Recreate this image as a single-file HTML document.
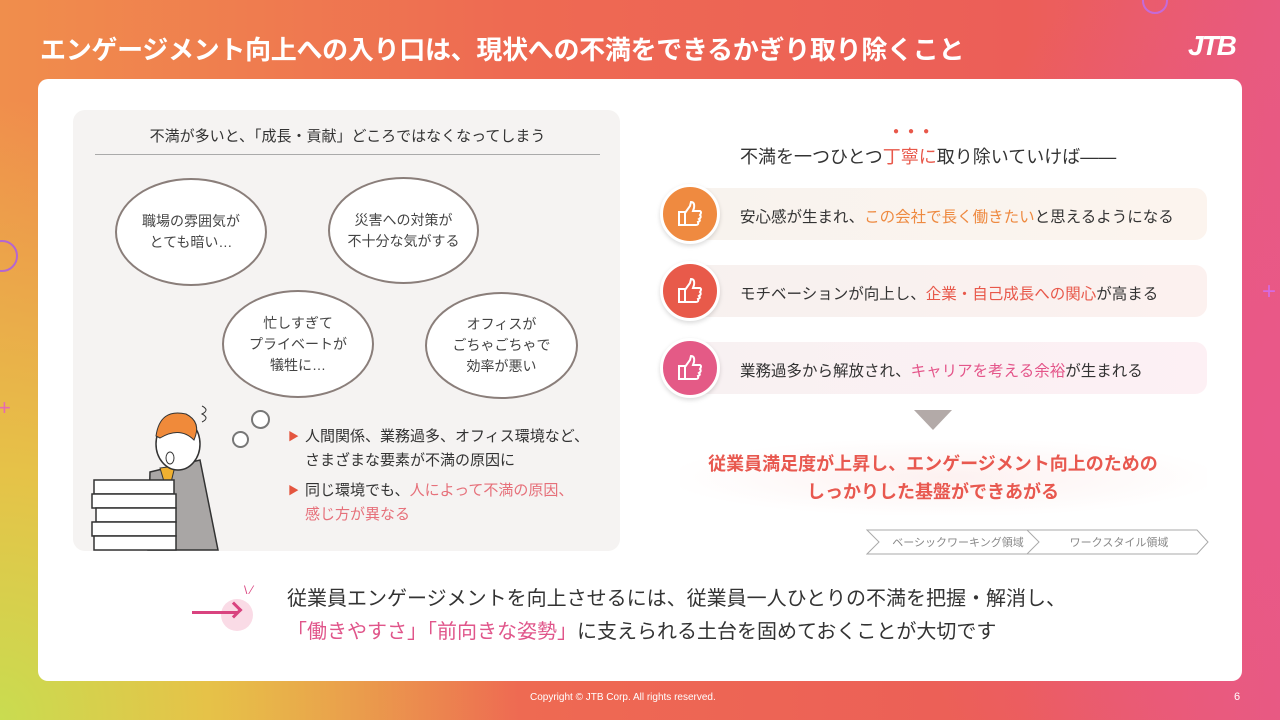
<!DOCTYPE html>
<html><head><meta charset="utf-8"><style>
*{margin:0;padding:0;box-sizing:border-box}
body{width:1280px;height:720px;overflow:hidden;position:relative;font-family:"Liberation Sans","Noto Sans CJK JP",sans-serif;color:#333;
background:linear-gradient(90deg,#f08e4c 0%,#ee6a52 40%,#ec5e58 80%,#e85a7e 100%);}
.bgl{position:absolute;left:0;top:0;width:700px;height:720px;background:radial-gradient(ellipse 520px 620px at 0% 100%,#c9dc50 0%,#e6c248 40%,rgba(240,150,75,0) 100%);}
.bgr{position:absolute;right:0;top:0;width:500px;height:720px;background:radial-gradient(ellipse 400px 500px at 100% 60%,#e9588a 0%,rgba(233,88,138,0) 100%);}
.a{position:absolute;white-space:nowrap}
.title{left:40px;top:30px;font-size:26px;color:#fff;font-weight:bold;letter-spacing:-0.3px}
.card{position:absolute;left:38px;top:79px;width:1204px;height:602px;background:#fff;border-radius:10px}
.panel{position:absolute;left:73px;top:110px;width:547px;height:441px;background:#f5f3f2;border-radius:12px}
.bub{position:absolute;border:2px solid #8a7e7a;border-radius:50%;background:#fff;display:flex;align-items:center;justify-content:center;text-align:center;font-size:14px;line-height:21px;color:#444}
.pill{position:absolute;left:680px;width:527px;height:52px;border-radius:12px}
.circ{position:absolute;width:60px;height:60px;border-radius:50%;border:3px solid #fff;box-shadow:0 2px 5px rgba(0,0,0,.15);display:flex;align-items:center;justify-content:center}
.rt{position:absolute;left:740px;font-size:15.5px;color:#333}
.bl{font-size:15px;color:#333;line-height:24px}
</style></head><body>
<div class="bgl"></div><div class="bgr"></div>
<div class="a" style="left:1142px;top:-12px;width:26px;height:26px;border:2px solid #c56ad8;border-radius:50%"></div>
<div class="a" style="left:-14px;top:240px;width:32px;height:32px;border:2px solid #b566d0;border-radius:50%"></div>
<div class="a" style="left:-2px;top:395px;color:#e66ab0;font-size:22px">+</div>
<div class="a" style="left:1262px;top:278px;color:#d56ae0;font-size:24px">+</div>
<div class="a title">エンゲージメント向上への入り口は、現状への不満をできるかぎり取り除くこと</div>
<div class="a" style="left:1188px;top:30px;font-size:28px;font-weight:bold;font-style:italic;color:#fff;letter-spacing:-2px">JTB</div>
<div class="card"></div>
<div class="panel"></div>
<div class="a" style="left:95px;top:125px;width:505px;text-align:center;font-size:15px;color:#333">不満が多いと、「成長・貢献」どころではなくなってしまう</div>
<div class="a" style="left:95px;top:154px;width:505px;height:1px;background:#aaa"></div>
<div class="bub" style="left:115px;top:178px;width:152px;height:108px">職場の雰囲気が<br>とても暗い…</div>
<div class="bub" style="left:328px;top:177px;width:151px;height:107px">災害への対策が<br>不十分な気がする</div>
<div class="bub" style="left:222px;top:290px;width:152px;height:108px">忙しすぎて<br>プライベートが<br>犠牲に…</div>
<div class="bub" style="left:425px;top:292px;width:153px;height:107px">オフィスが<br>ごちゃごちゃで<br>効率が悪い</div>
<div class="a" style="left:232px;top:431px;width:17px;height:17px;border:2px solid #777;border-radius:50%;background:#fff"></div>
<div class="a" style="left:251px;top:410px;width:19px;height:19px;border:2px solid #777;border-radius:50%;background:#fff"></div>
<svg class="a" style="left:90px;top:400px" width="140" height="152" viewBox="0 0 140 152">
<path d="M60 72 L110 60 L128 150 L58 150 Z" fill="#a9a6a5" stroke="#333" stroke-width="1.5"/>
<path d="M70 68 L78 95 L85 66 Z" fill="#f0b030" stroke="#333"/>
<ellipse cx="88" cy="44" rx="22" ry="26" fill="#fff" stroke="#333" stroke-width="1.5"/>
<path d="M66 36 Q70 8 96 14 Q112 22 104 40 Q90 26 70 38Z" fill="#f08a3a" stroke="#333"/>
<ellipse cx="80" cy="58" rx="4" ry="6" fill="#fff" stroke="#333"/>
<g fill="#fff" stroke="#333" stroke-width="1.5">
<rect x="4" y="80" width="80" height="14"/><rect x="2" y="94" width="84" height="14"/><rect x="6" y="108" width="80" height="14"/><rect x="2" y="122" width="84" height="14"/><rect x="4" y="136" width="82" height="14"/></g>
<path d="M112 6 q8 4 0 8 q8 4 0 8" fill="none" stroke="#333"/>
</svg>
<div class="a" style="left:288px;top:428px;color:#e4553f;font-size:11px">▶</div>
<div class="a bl" style="left:305px;top:425px">人間関係、業務過多、オフィス環境など、<br>さまざまな要素が不満の原因に</div>
<div class="a" style="left:288px;top:482px;color:#e4553f;font-size:11px">▶</div>
<div class="a bl" style="left:305px;top:479px">同じ環境でも、<span style="color:#e6707a">人によって不満の原因、<br>感じ方が異なる</span></div>

<div class="a" style="left:740px;top:143px;font-size:18px;color:#333">不満を一つひとつ<span style="color:#e8584a">丁寧に</span>取り除いていけば——</div>
<div class="a" style="left:893px;top:126px;font-size:10px;color:#e8584a;letter-spacing:9px">●●●</div>
<div class="pill" style="top:188px;background:linear-gradient(90deg,#f8f3ee,#fcf4ee)"></div>
<div class="pill" style="top:265px;background:linear-gradient(90deg,#f7f1ef,#fcf1ef)"></div>
<div class="pill" style="top:342px;background:linear-gradient(90deg,#f8f1f2,#fdf0f4)"></div>
<div class="circ" style="left:660px;top:184px;background:#ef8a40"><svg width="28" height="28" viewBox="0 0 28 28" fill="none" stroke="#fff" stroke-width="2"><rect x="3" y="12" width="6" height="13"/><path d="M9 13 L14 6 L15 2 Q19 2 18 8 L17 11 H24 Q26 12 24 15 Q26 17 23 19 Q25 21 22 22 Q23 25 20 25 H9"/></svg></div>
<div class="circ" style="left:660px;top:261px;background:#e85a4a"><svg width="28" height="28" viewBox="0 0 28 28" fill="none" stroke="#fff" stroke-width="2"><rect x="3" y="12" width="6" height="13"/><path d="M9 13 L14 6 L15 2 Q19 2 18 8 L17 11 H24 Q26 12 24 15 Q26 17 23 19 Q25 21 22 22 Q23 25 20 25 H9"/></svg></div>
<div class="circ" style="left:660px;top:338px;background:#e45a86"><svg width="28" height="28" viewBox="0 0 28 28" fill="none" stroke="#fff" stroke-width="2"><rect x="3" y="12" width="6" height="13"/><path d="M9 13 L14 6 L15 2 Q19 2 18 8 L17 11 H24 Q26 12 24 15 Q26 17 23 19 Q25 21 22 22 Q23 25 20 25 H9"/></svg></div>
<div class="rt" style="top:205px">安心感が生まれ、<span style="color:#ee8a40">この会社で長く働きたい</span>と思えるようになる</div>
<div class="rt" style="top:282px">モチベーションが向上し、<span style="color:#e8584a">企業・自己成長への関心</span>が高まる</div>
<div class="rt" style="top:359px">業務過多から解放され、<span style="color:#e4558a">キャリアを考える余裕</span>が生まれる</div>
<div class="a" style="left:914px;top:410px;width:0;height:0;border-left:19px solid transparent;border-right:19px solid transparent;border-top:20px solid #b3aaa8"></div>
<div class="a" style="left:680px;top:440px;width:527px;height:75px;background:radial-gradient(ellipse at center,#fdf1f0 0%,#fff 75%)"></div>
<div class="a" style="left:680px;top:450px;width:506px;text-align:center;font-size:18px;line-height:28px;font-weight:bold;color:#e8584f">従業員満足度が上昇し、エンゲージメント向上のための<br>しっかりした基盤ができあがる</div>
<svg class="a" style="left:866px;top:529px" width="344" height="26">
<path d="M1 1 H172 L184 13 L172 25 H1 L13 13 Z" fill="#fff" stroke="#aaa"/>
<path d="M161 1 H331 L342 13 L331 25 H161 L173 13 Z" fill="#fff" stroke="#aaa"/>
<text x="92" y="17" font-size="11" fill="#888" text-anchor="middle" font-family="Liberation Sans, Noto Sans CJK JP, sans-serif">ベーシックワーキング領域</text>
<text x="253" y="17" font-size="11" fill="#888" text-anchor="middle" font-family="Liberation Sans, Noto Sans CJK JP, sans-serif">ワークスタイル領域</text>
</svg>
<div class="a" style="left:221px;top:599px;width:32px;height:32px;border-radius:50%;background:#fadbe6"></div>
<div class="a" style="left:192px;top:611px;width:46px;height:3px;background:#d9437f"></div>
<div class="a" style="left:228px;top:603px;width:12px;height:12px;border-top:3px solid #d9437f;border-right:3px solid #d9437f;transform:rotate(45deg);transform-origin:center;margin-top:1px"></div>
<div class="a" style="left:244px;top:583px;color:#d9437f;font-size:12px">\ ⁄</div>
<div class="a" style="left:287px;top:583px;font-size:20px;line-height:33px;color:#333">従業員エンゲージメントを向上させるには、従業員一人ひとりの不満を把握・解消し、<br><span style="color:#e0558a">「働きやすさ」「前向きな姿勢」</span>に支えられる土台を固めておくことが大切です</div>
<div class="a" style="left:530px;top:692px;font-size:10px;color:#fff">Copyright © JTB Corp. All rights reserved.</div>
<div class="a" style="left:1234px;top:691px;font-size:11px;color:#fff">6</div>
</body></html>
